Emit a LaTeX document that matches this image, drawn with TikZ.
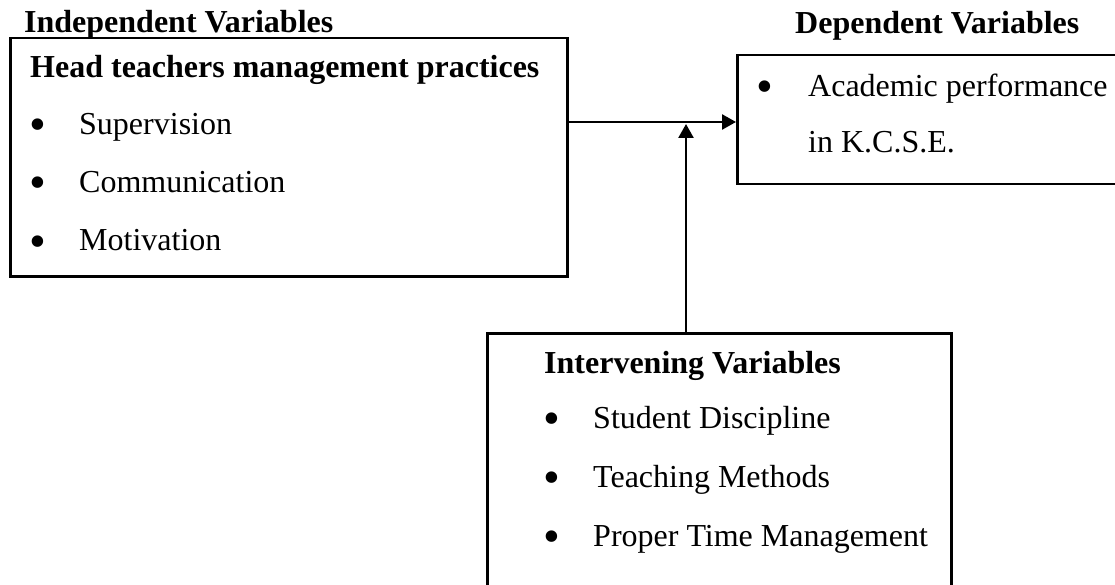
\documentclass[tikz,border=0pt]{standalone}
\usepackage{fontspec}
\setmainfont{Liberation Serif}
\usetikzlibrary{arrows.meta,positioning}

\begin{document}
\begin{tikzpicture}[x=1pt,y=-1pt,font=\fontsize{32}{38}\selectfont,
    varbox/.style={draw,line width=2.5pt,inner sep=0pt,anchor=north west},
    heading/.style={font=\fontsize{32}{38}\selectfont\bfseries,anchor=base west,inner sep=0pt},
    item/.style={anchor=base west,inner sep=0pt},
    dot/.style={font=\fontsize{48}{48}\selectfont,anchor=base,inner sep=0pt,yshift=-6pt},
    link/.style={line width=2.5pt,-{Triangle[length=14pt,width=15pt]}}]
        \useasboundingbox (0,0) rectangle (1115,585);
        \clip (0,0) rectangle (1115,585);
        % the three boxes
        \node[varbox,minimum width=557pt,minimum height=238pt] (ind) at (9,37) {};
        \node[varbox,minimum width=420pt,minimum height=129pt] (dep) at (736,54) {};
        \node[varbox,minimum width=464pt,minimum height=300pt] (int) at (486,332) {};
        % titles
        \node[heading] (indtitle) at (24,33) {Independent Variables};
        \node[heading] (deptitle) at (795,34) {Dependent Variables};
        \node[heading] (indhead) at (30,78) {Head teachers management practices};
        \node[heading] (inthead) at (544,373) {Intervening Variables};
        % lists
        \foreach \t [count=\i] in {Supervision,Communication,Motivation}
            {
                \node[dot] (indb\i) at (38,77+58*\i) {\textbullet};
                \node[item] (ind\i) at (79,77+58*\i) {\t};
            }
        \foreach \t [count=\i] in {Student Discipline,Teaching Methods,Proper Time Management}
            {
                \node[dot] (intb\i) at (552,369+59*\i) {\textbullet};
                \node[item] (int\i) at (593,369+59*\i) {\t};
            }
        \node[dot] (depb1) at (765,97) {\textbullet};
        \node[item] (dep1) at (808,97) {Academic performance};
        \node[item] (dep2) at (808,153) {in K.C.S.E.};
        % arrows
        \coordinate (join) at (686,122);
        \draw[link] (ind.east |- join) -- (dep.west |- join);
        \draw[link] (int.north -| join) -- ([yshift=-2pt]join);
\end{tikzpicture}
\end{document}
